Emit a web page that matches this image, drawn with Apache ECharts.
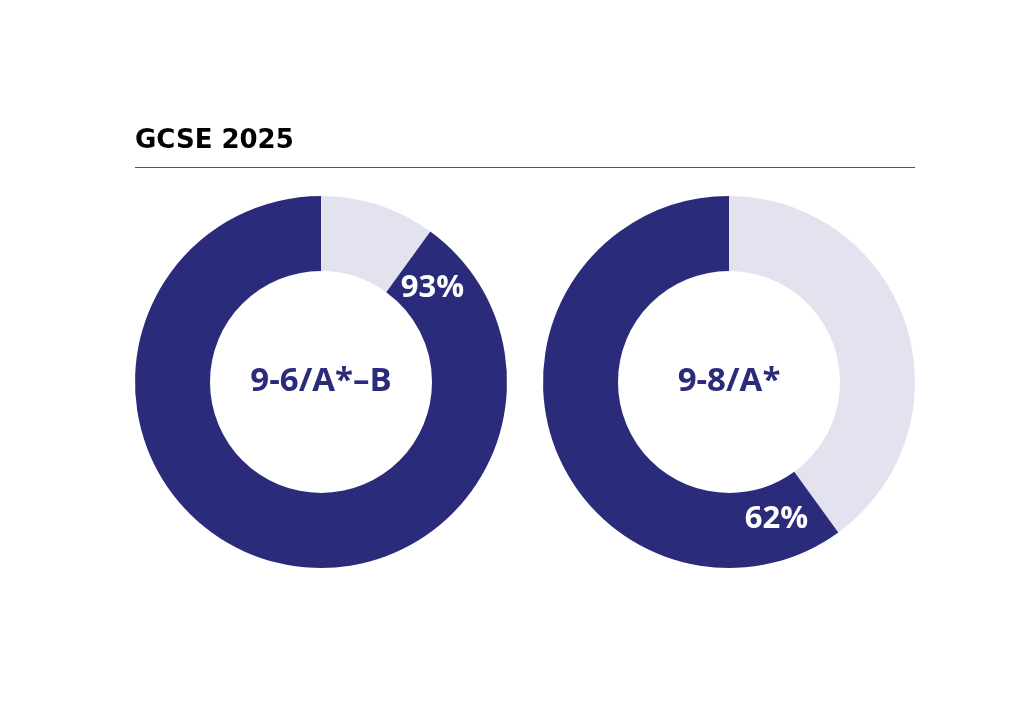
<!DOCTYPE html>
<html>
<head>
<meta charset="utf-8">
<script src="https://cdn.jsdelivr.net/npm/echarts@6/dist/echarts.min.js"></script>
<style>
  html, body { margin: 0; padding: 0; background: #fff; }
  #chart { width: 1024px; height: 724px; }
</style>
</head>
<body>
<div id="chart"></div>
<script>
// data
const groups = ['9-6/A*–B', '9-8/A*'];
const shownLabels = ['93%', '62%'];
const darkShare = [90, 60];   // drawn dark arc (share of ring)
const lightShare = [10, 40];  // drawn light arc, clockwise from 12 o'clock

const DARK = '#2b2b7c';
const LIGHT = '#e3e3ef';
const FONT = '"Open Sans", Lato, sans-serif';

const centers = [[321, 382], [729, 382]];
const radius = [111, 186];
const labelOffsetDeg = [14, 17]; // label sits just past start of dark arc

let chart = echarts.init(document.getElementById('chart'));

const series = groups.map((g, i) => ({
    type: 'pie',
    center: centers[i],
    radius: radius,
    startAngle: 90,
    clockwise: true,
    silent: true,
    label: { show: false },
    labelLine: { show: false },
    emphasis: { disabled: true },
    itemStyle: { borderWidth: 0 },
    data: [
        { name: 'rest', value: lightShare[i], itemStyle: { color: LIGHT } },
        { name: g, value: darkShare[i], itemStyle: { color: DARK } }
    ]
}));

const graphics = [
    {
        type: 'text', left: 135, top: 128, z: 100,
        style: { text: 'GCSE 2025', fill: '#000', font: 'bold 26px "DejaVu Sans", sans-serif' }
    },
    {
        type: 'line', shape: { x1: 135, y1: 167.5, x2: 915, y2: 167.5 }, z: 100,
        style: { stroke: '#555', lineWidth: 1 }
    }
];

groups.forEach((g, i) => {
    const [cx, cy] = centers[i];
    graphics.push({
        type: 'text', x: cx, y: cy, z: 100,
        style: {
            text: g, fill: DARK, font: 'bold 33px ' + FONT,
            align: 'center', verticalAlign: 'middle'
        }
    });
    // angle from 12 o'clock, clockwise
    const total = darkShare[i] + lightShare[i];
    const theta = (lightShare[i] / total * 360 + labelOffsetDeg[i]) * Math.PI / 180;
    const r = (radius[0] + radius[1]) / 2 - 3;
    graphics.push({
        type: 'text', x: cx + r * Math.sin(theta), y: cy - r * Math.cos(theta), z: 100,
        style: {
            text: shownLabels[i], fill: '#fff', font: 'bold 31px ' + FONT,
            align: 'center', verticalAlign: 'middle'
        }
    });
});

chart.setOption({
    animation: false,
    series: series,
    graphic: graphics
});
</script>
</body>
</html>
